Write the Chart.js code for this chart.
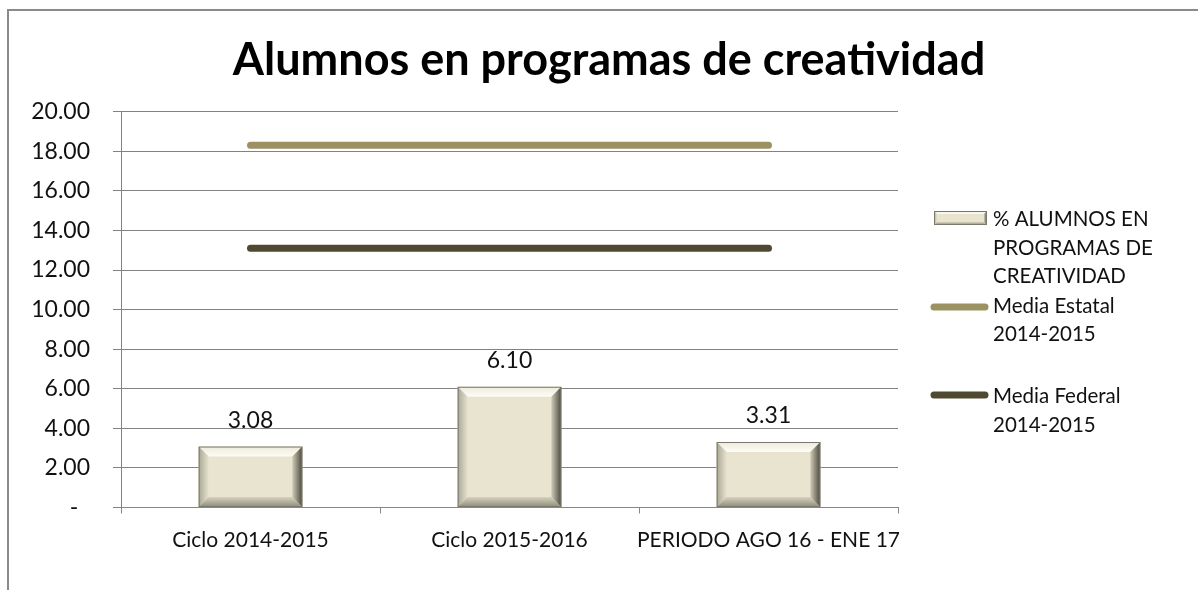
<!DOCTYPE html>
<html><head><meta charset="utf-8">
<script src="https://cdn.jsdelivr.net/npm/chart.js@4.4.1/dist/chart.umd.min.js"></script>
<style>
html,body{margin:0;padding:0;background:#fff;width:1198px;height:590px;overflow:hidden}
#frame{position:absolute;left:7px;top:9px;width:1300px;height:700px;border-left:2px solid #8a8a8a;border-top:2px solid #8a8a8a;}
#c{position:absolute;left:0;top:0;}
</style></head><body>
<div id="frame"></div>
<canvas id="c" width="1198" height="590"></canvas>
<script>
// ---- data ----
const categories = ["Ciclo 2014-2015", "Ciclo 2015-2016", "PERIODO AGO 16 - ENE 17"];
const alumnosValues = [3.08, 6.10, 3.31];
const mediaEstatal = [18.3, 18.3, 18.3];
const mediaFederal = [13.1, 13.1, 13.1];
const seriesNames = ["% ALUMNOS EN PROGRAMAS DE CREATIVIDAD", "Media Estatal 2014-2015", "Media Federal 2014-2015"];
const legendLines = [["% ALUMNOS EN", "PROGRAMAS DE", "CREATIVIDAD"], ["Media Estatal", "2014-2015"], ["Media Federal", "2014-2015"]];
const yMin = 0, yMax = 20, yStep = 2;
const titleText = "Alumnos en programas de creatividad";

const FONT = "Lato, 'Open Sans', sans-serif";
const colEstatal = '#9C9163';
const colFederal = '#4E4930';

function poly(ctx, pts, fill) {
  ctx.beginPath();
  ctx.moveTo(pts[0][0], pts[0][1]);
  for (let i = 1; i < pts.length; i++) ctx.lineTo(pts[i][0], pts[i][1]);
  ctx.closePath();
  ctx.fillStyle = fill;
  ctx.fill();
}
function grad(ctx, x0, y0, x1, y1, c0, c1) {
  const g = ctx.createLinearGradient(x0, y0, x1, y1);
  g.addColorStop(0, c0); g.addColorStop(1, c1);
  return g;
}
function bevelRect(ctx, l, t, r, b, w) {
  ctx.save();
  ctx.fillStyle = '#E9E4CF';
  ctx.fillRect(l, t, r - l, b - t);
  poly(ctx, [[l, t], [r, t], [r - w, t + w], [l + w, t + w]], grad(ctx, 0, t, 0, t + w, '#EEEBDD', '#FDFCF6'));
  poly(ctx, [[l, t], [l + w, t + w], [l + w, b - w], [l, b]], grad(ctx, l, 0, l + w, 0, '#A9A795', '#E6E2CE'));
  poly(ctx, [[l, b], [l + w, b - w], [r - w, b - w], [r, b]], grad(ctx, 0, b - w, 0, b, '#D6D2BE', '#8E8C7A'));
  poly(ctx, [[r, t], [r, b], [r - w, b - w], [r - w, t + w]], grad(ctx, r - w, 0, r, 0, '#CFCBB7', '#4A493D'));
  ctx.strokeStyle = '#7A796E';
  ctx.lineWidth = 1;
  ctx.strokeRect(l + 0.5, t + 0.5, r - l - 1, b - t - 1);
  ctx.restore();
}

const bevelPlugin = {
  id: 'bevel',
  afterDatasetDraw(chart, args) {
    if (args.index !== 0) return;
    const ctx = chart.ctx;
    const meta = chart.getDatasetMeta(0);
    meta.data.forEach((bar, i) => {
      const p = bar.getProps(['x', 'y', 'base', 'width'], true);
      bevelRect(ctx, p.x - p.width / 2, p.y, p.x + p.width / 2, p.base, 10);
      ctx.save();
      ctx.font = "23px " + FONT;
      ctx.fillStyle = '#111';
      ctx.textAlign = 'center';
      ctx.textBaseline = 'alphabetic';
      ctx.fillText(alumnosValues[i].toFixed(2), p.x, p.y - 19);
      ctx.restore();
    });
  }
};

const titleLegendPlugin = {
  id: 'titleLegend',
  afterDraw(chart) {
    const ctx = chart.ctx;
    ctx.save();
    // title
    ctx.font = "bold 45px " + FONT;
    ctx.fillStyle = '#000';
    ctx.textAlign = 'center';
    ctx.textBaseline = 'alphabetic';
    ctx.fillText(titleText, 609, 75);
    // legend
    const textX = 993;
    const lineH = 28.7;
    const firstBaselines = [226, 312.7, 403];
    ctx.font = "20.5px " + FONT;
    ctx.fillStyle = '#111';
    ctx.textAlign = 'left';
    legendLines.forEach((lines, k) => {
      lines.forEach((ln, j) => ctx.fillText(ln, textX, firstBaselines[k] + j * lineH));
    });
    bevelRect(ctx, 934, 211, 987, 225, 3);
    [[colEstatal, 307], [colFederal, 395]].forEach(([c, y]) => {
      ctx.beginPath();
      ctx.strokeStyle = c;
      ctx.lineWidth = 7;
      ctx.lineCap = 'round';
      ctx.moveTo(934, y);
      ctx.lineTo(985, y);
      ctx.stroke();
    });
    ctx.restore();
  }
};

new Chart(document.getElementById('c'), {
  data: {
    labels: categories,
    datasets: [
      { type: 'bar', label: seriesNames[0], data: alumnosValues, backgroundColor: '#E9E4CF', borderWidth: 0,
        categoryPercentage: 0.8, barPercentage: 0.5, order: 3 },
      { type: 'line', label: seriesNames[1], data: mediaEstatal, borderColor: colEstatal, borderWidth: 7,
        borderCapStyle: 'round', pointRadius: 0, fill: false, order: 2 },
      { type: 'line', label: seriesNames[2], data: mediaFederal, borderColor: colFederal, borderWidth: 7,
        borderCapStyle: 'round', pointRadius: 0, fill: false, order: 1 }
    ]
  },
  options: {
    responsive: false,
    animation: false,
    events: [],
    layout: { padding: { left: 0, right: 300, top: 111.7, bottom: 0 } },
    plugins: {
      legend: { display: false },
      tooltip: { enabled: false },
      title: { display: false }
    },
    scales: {
      x: {
        type: 'category',
        offset: true,
        grid: { display: true, offset: true, drawOnChartArea: false, drawTicks: true, tickLength: 6, color: '#878787', lineWidth: 1 },
        border: { display: true, color: '#878787', width: 1 },
        ticks: { color: '#111', font: { family: FONT, size: 21 }, padding: 14, maxRotation: 0, autoSkip: false },
        afterFit(s) { s.height = 82.5; }
      },
      y: {
        min: yMin, max: yMax,
        ticks: {
          stepSize: yStep, color: '#111', font: { family: FONT, size: 23 }, padding: 23,
          callback: v => v === 0 ? '-  ' : Number(v).toFixed(2)
        },
        grid: { color: '#828282', lineWidth: 1, tickLength: 8, drawTicks: true },
        border: { display: true, color: '#828282', width: 1 },
        afterFit(s) { s.width = 121; }
      }
    }
  },
  plugins: [bevelPlugin, titleLegendPlugin]
});
</script>
</body></html>
